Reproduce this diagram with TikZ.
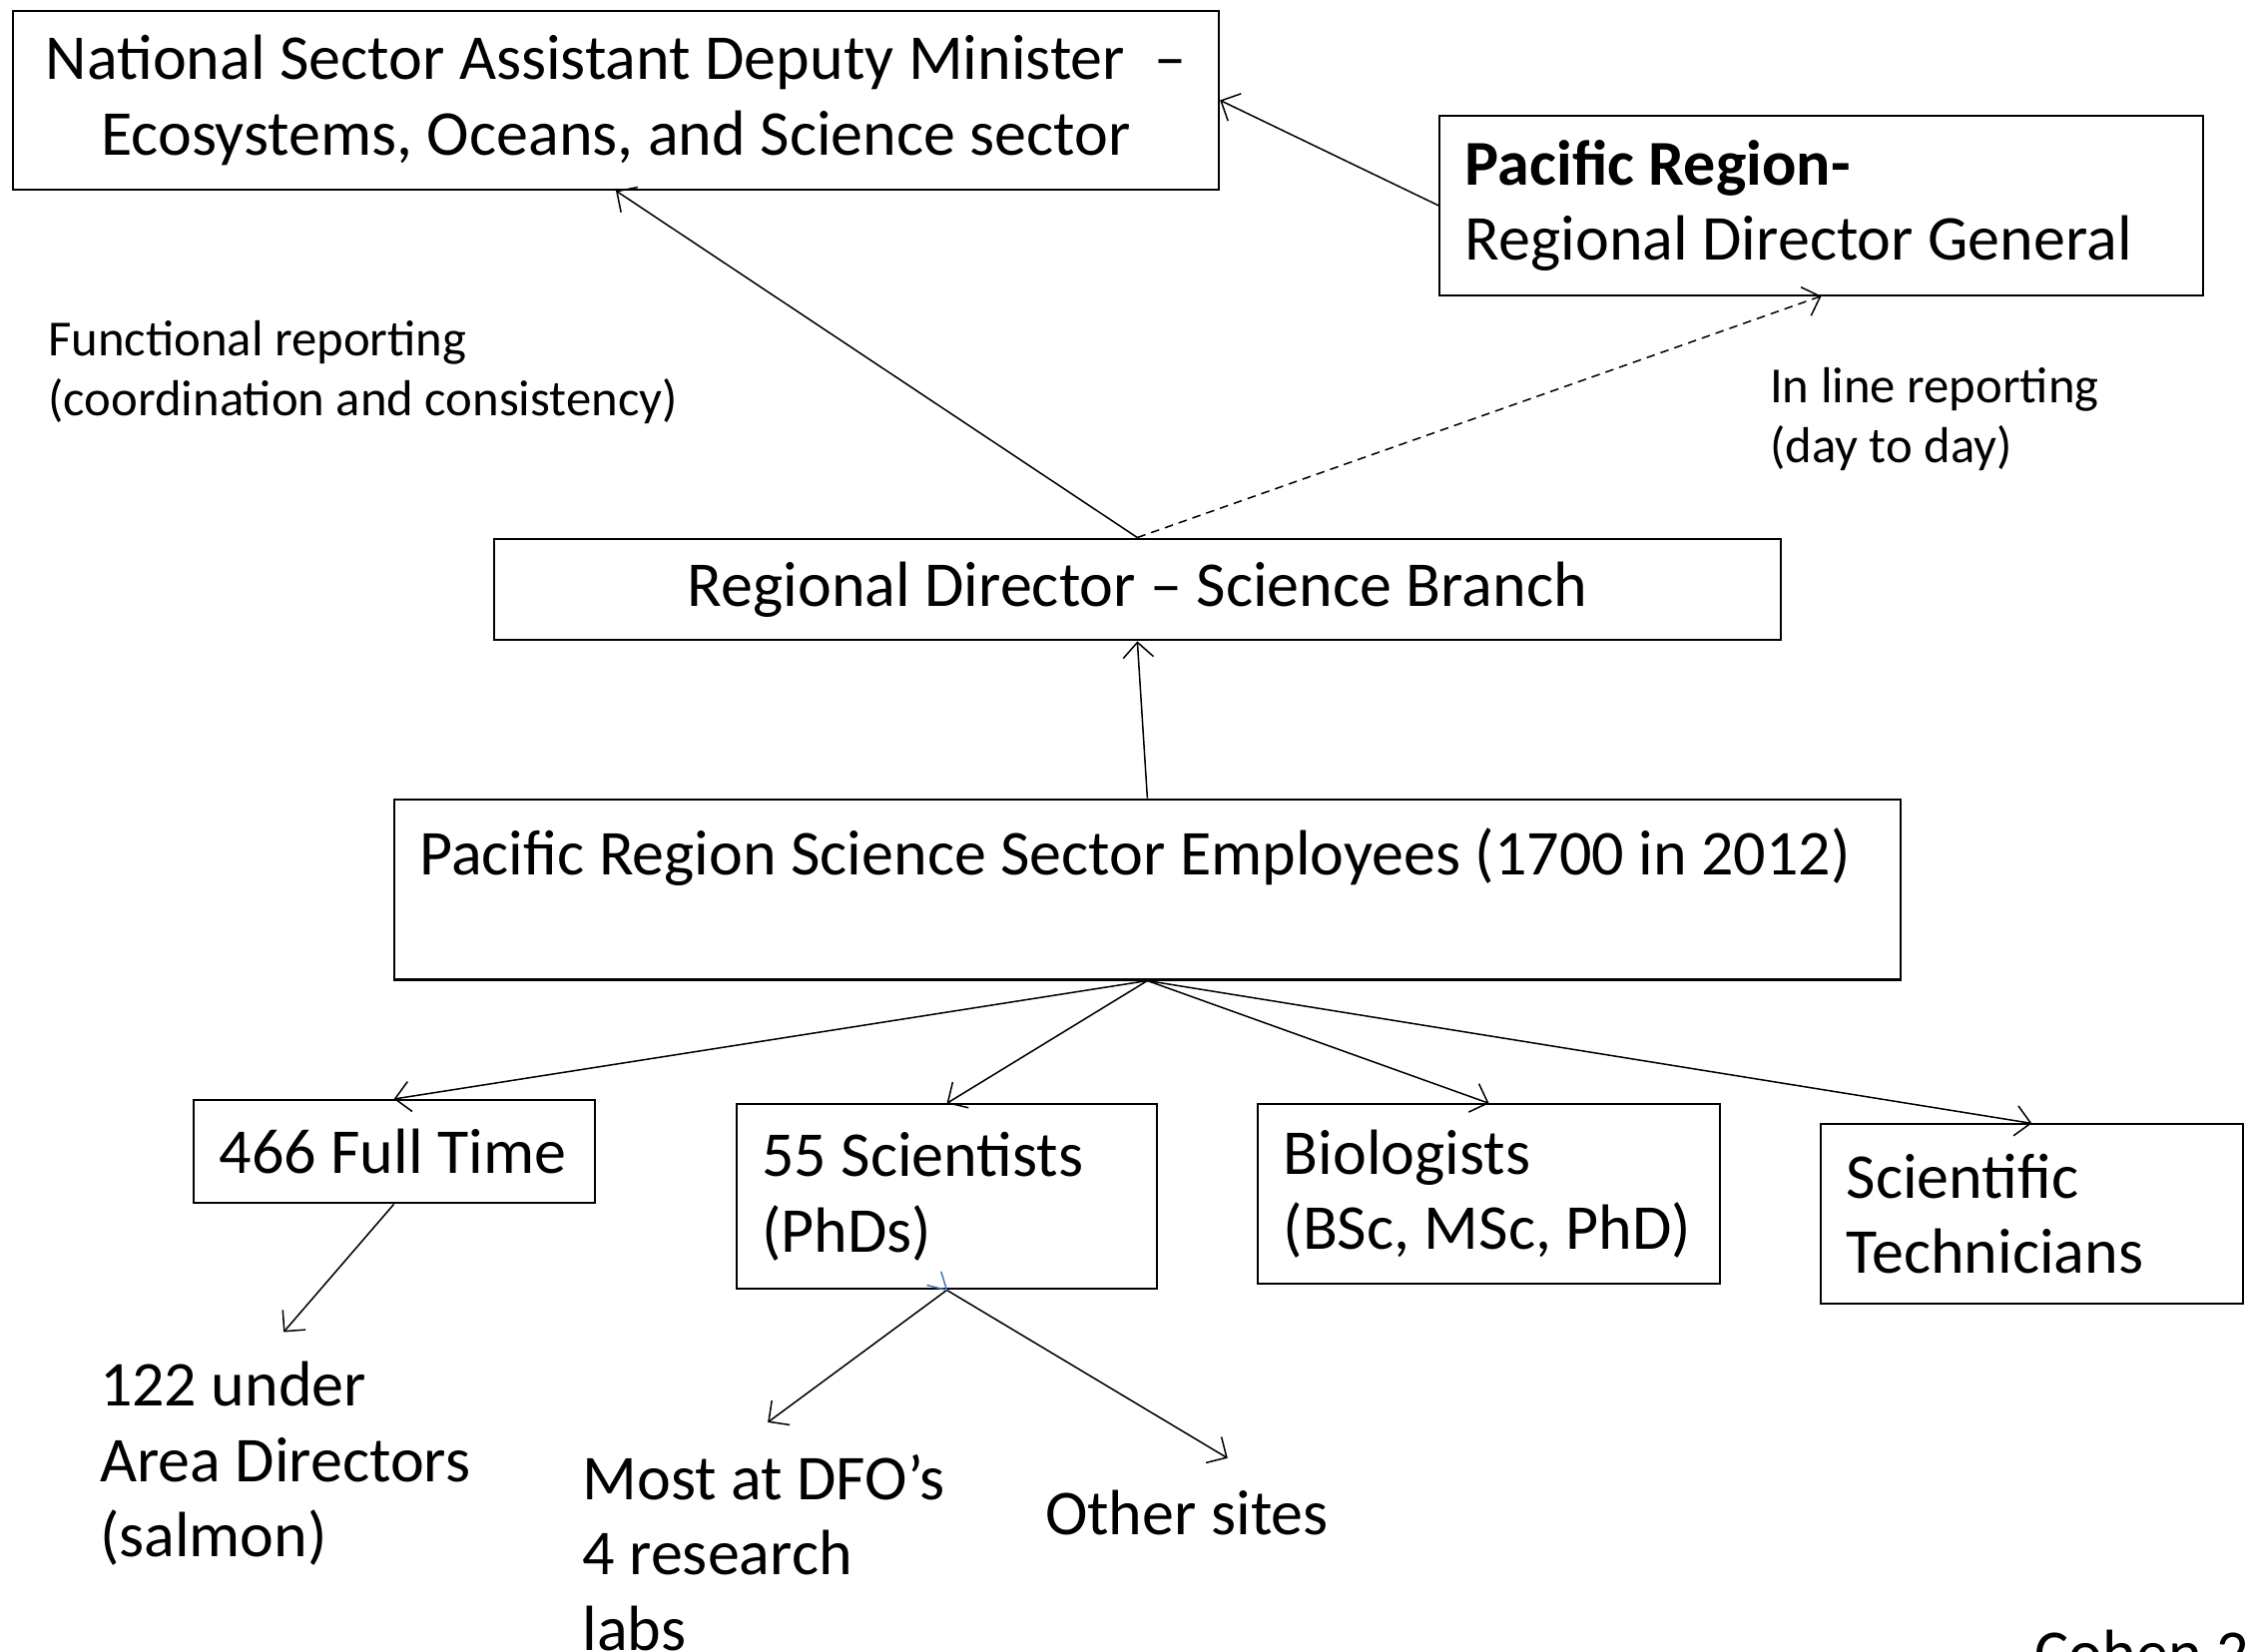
\documentclass[tikz,border=0pt]{standalone}
\usepackage{fontspec}
\setmainfont{Carlito}
\usetikzlibrary{arrows.meta}
\newcommand{\bigtxt}{\fontsize{12.7}{15}\selectfont}
\newcommand{\smalltxt}{\fontsize{10.05}{11.9}\selectfont}

\begin{document}
\begin{tikzpicture}[
  box/.style={rectangle, draw=black, line width=0.4pt, align=center,
              inner sep=0pt, font=\bigtxt},
  lbox/.style={box, align=flush left, inner xsep=0.18cm},
  note/.style={anchor=west, inner sep=0pt, align=flush left},
  arr/.style={-{Straight Barb[length=3pt,width=6pt]}, line width=0.3pt}
]
\useasboundingbox (0,0) rectangle (15.68,-11.53);

\node[box, minimum width=8.42cm, minimum height=1.25cm]
      (nsadm) at (4.30,-0.70) {National Sector Assistant Deputy Minister~~--\\Ecosystems, Oceans, and Science sector};
\node[lbox, text width=4.97cm, minimum height=1.25cm]
      (prrdg) at (12.715,-1.435) {\textbf{Pacific Region-}\\Regional Director General};
\node[box, minimum width=8.98cm, minimum height=0.71cm]
      (rdsb) at (7.94,-4.115) {Regional Director -- Science Branch};
\node[lbox, text width=10.16cm, minimum height=1.26cm]
      (emp) at (8.01,-6.21) {Pacific Region Science Sector Employees (1700 in 2012)\\~};

\node[lbox, text width=2.44cm, minimum height=0.72cm]
      (ft) at (2.75,-8.04) {466 Full Time};
\node[lbox, text width=2.58cm, minimum height=1.29cm]
      (sci) at (6.61,-8.355) {55 Scientists\\(PhDs)};
\node[lbox, text width=2.87cm, minimum height=1.25cm]
      (bio) at (10.395,-8.335) {Biologists\\(BSc, MSc, PhD)};
\node[lbox, text width=2.59cm, minimum height=1.25cm]
      (tech) at (14.185,-8.475) {Scientific\\Technicians};

% free labels
\node[note, font=\smalltxt] (func) at (0.33,-2.60) {Functional reporting\\(coordination and consistency)};
\node[note, font=\smalltxt] (inl)  at (12.35,-2.93) {In line reporting\\(day to day)};
\node[note, font=\bigtxt] (under) at (0.69,-10.22) {122 under\\Area Directors\\(salmon)};
\node[note, font=\bigtxt] (most)  at (4.06,-10.84) {Most at DFO’s\\4 research\\labs};
\node[note, font=\bigtxt] (other) at (7.29,-10.56) {Other sites};
\node[anchor=base west, inner sep=0pt, font=\bigtxt] (cohen) at (14.20,-11.69) {Cohen 2012};

\coordinate (ftend)    at (1.98,-9.30);
\coordinate (mostend)  at (5.36,-9.93);
\coordinate (otherend) at (8.57,-10.18);

\draw[arr] (rdsb.north) -- (nsadm.south);
\draw[arr, dash pattern=on 1.7pt off 1.2pt] (rdsb.north) -- (prrdg.south);
\draw[arr] (prrdg.west) -- (nsadm.east);
\draw[arr] (emp.north) -- (rdsb.south);

\draw[arr] (emp.south) -- (ft.north);
\draw[arr] (emp.south) -- (sci.north);
\draw[arr] (emp.south) -- (bio.north);
\draw[arr] (emp.south) -- (tech.north);

\draw[arr] (ft.south) -- (ftend);
\draw[arr] (sci.south) -- (mostend);
\draw[arr] (sci.south) -- (otherend);
% stray blue tip
\draw[line width=0.3pt, draw={rgb,255:red,70;green,120;blue,190}]
  ([shift={(-0.14,0.035)}]sci.south) -- (sci.south) -- ([shift={(-0.04,0.13)}]sci.south);

\end{tikzpicture}
\end{document}
